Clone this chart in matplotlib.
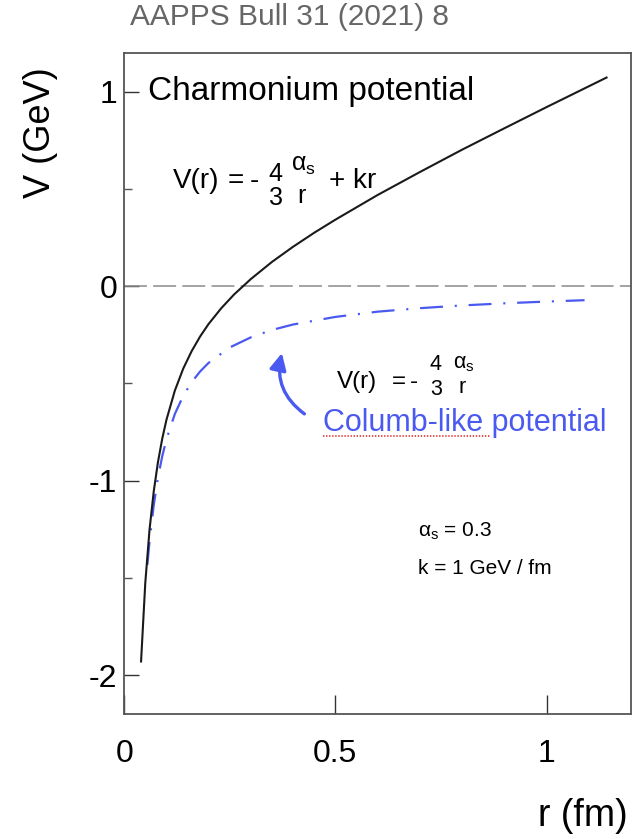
import matplotlib
matplotlib.use("Agg")
import matplotlib.pyplot as plt
from matplotlib.lines import Line2D

plt.rcParams['font.family'] = ['Liberation Sans', 'DejaVu Sans']
plt.rcParams['mathtext.fontset'] = 'custom'
plt.rcParams['mathtext.rm'] = 'Liberation Sans'
plt.rcParams['mathtext.it'] = 'Liberation Sans'
plt.rcParams['axes.unicode_minus'] = False
plt.rcParams['lines.scale_dashes'] = False

# Cornell potential (black)
r_full = [0.040, 0.050, 0.060, 0.070, 0.080, 0.090, 0.100, 0.120, 0.140, 0.160,
          0.180, 0.200, 0.230, 0.260, 0.300, 0.350, 0.400, 0.450, 0.500, 0.600,
          0.700, 0.800, 0.900, 1.000, 1.142]
v_full = [-1.930, -1.526, -1.253, -1.056, -0.905, -0.786, -0.688, -0.537, -0.423, -0.333,
          -0.258, -0.194, -0.113, -0.043, 0.037, 0.125, 0.203, 0.275, 0.342, 0.469,
          0.587, 0.702, 0.812, 0.921, 1.073]

# Coulomb-like part (blue dash-dot)
r_coul = [0.055, 0.060, 0.070, 0.080, 0.090, 0.100, 0.120, 0.140, 0.160, 0.180,
          0.200, 0.250, 0.300, 0.350, 0.400, 0.500, 0.600, 0.700, 0.800, 0.900,
          1.000, 1.090]
v_coul = [-1.433, -1.313, -1.126, -0.985, -0.876, -0.788, -0.657, -0.563, -0.493, -0.438,
          -0.394, -0.315, -0.263, -0.225, -0.197, -0.158, -0.131, -0.113, -0.099, -0.088,
          -0.079, -0.072]

x_ticks = [0, 0.5, 1]
x_labels = ['0', '0.5', '1']
y_ticks = [-2, -1, 0, 1]
y_labels = ['-2', '-1', '0', '1']
y_minor = [-1.5, -0.5, 0.5]

blue = '#4a5af0'
W, H = 640, 839


def ptext(x, y, s, **kw):
    # text placed in pixel coordinates of the final image (y from top)
    return fig.text(x / W, 1 - y / H, s, **kw)


def formula(x0, base, pos, big, small, with_kr):
    # pos: pixel offsets of the pieces, ROOT-like stacked fractions without bar
    ptext(x0, base, 'V(r)', fontsize=big, va='baseline')
    ptext(x0 + pos['eq'], base, '=', fontsize=big, va='baseline')
    ptext(x0 + pos['minus'], base, '-', fontsize=big, va='baseline')
    ptext(x0 + pos['num_x'], pos['four'], '4', fontsize=small, ha='center', va='baseline')
    ptext(x0 + pos['num_x'] + 1, pos['three'], '3', fontsize=small, ha='center', va='baseline')
    ptext(x0 + pos['frac_x'], pos['alpha'], r'$\alpha_{\mathrm{s}}$', fontsize=small,
          ha='center', va='baseline')
    ptext(x0 + pos['frac_x'] - 2, pos['r'], 'r', fontsize=small, ha='center', va='baseline')
    if with_kr:
        ptext(x0 + pos['plus'], base, '+ kr', fontsize=big, va='baseline')


fig = plt.figure(figsize=(6.4, 8.39), dpi=100)
ax = fig.add_axes([0.194, 0.149, 0.792, 0.788])

ax.axhline(0, color='#8a8a8a', lw=1.1, dashes=(16.5, 4.5))
ax.plot(r_coul, v_coul, color=blue, lw=1.6, dashes=(16.5, 8.5, 1.5, 8.5))
ax.plot(r_full, v_full, color='#1a1a1a', lw=1.5)

ax.set_xlim(0, 1.2)
ax.set_ylim(-2.2, 1.2)
ax.set_xticks(x_ticks)
ax.set_xticklabels(x_labels)
ax.set_yticks(y_ticks)
ax.set_yticklabels(y_labels)
ax.set_yticks(y_minor, minor=True)
ax.tick_params(axis='x', direction='in', length=14, width=1, pad=18,
               labelsize=23, color='#333333')
ax.tick_params(axis='y', which='major', direction='in', length=11, width=1,
               pad=5, labelsize=23, color='#333333')
ax.tick_params(axis='y', which='minor', direction='in', length=5.5, width=1,
               color='#555555')
for s in ax.spines.values():
    s.set_color('#555555')
    s.set_linewidth(1.3)

ax.text(0.057, 1.0, 'Charmonium potential', fontsize=24, ha='left', va='center')

formula(173, 188, dict(eq=55, minus=77, num_x=102, four=181, three=205,
                       frac_x=130, alpha=171, r=203, plus=156),
        big=20, small=18, with_kr=True)
formula(337, 388, dict(eq=55, minus=73, num_x=98, four=370, three=395,
                       frac_x=127, alpha=368, r=393, plus=0),
        big=17.5, small=15.5, with_kr=False)

ax.text(0.470, -0.706, 'Columb-like potential', fontsize=22, color=blue,
        ha='left', va='center')
ax.annotate('', xy=(0.375, -0.33), xytext=(0.432, -0.665),
            arrowprops=dict(arrowstyle='-|>,head_length=1.0,head_width=0.5',
                            color=blue, lw=2.4,
                            connectionstyle='arc3,rad=-0.35'))
ax.text(0.696, -1.26, r'$\alpha_{\mathrm{s}}$ = 0.3', fontsize=15, ha='left', va='center')
ax.text(0.696, -1.45, 'k = 1 GeV / fm', fontsize=15, ha='left', va='center')

# red spell-check underline under "Columb-like"
fig.add_artist(Line2D([323 / W, 490 / W], [1 - 436 / H, 1 - 436 / H],
                      color='#e03030', lw=1.2, dashes=(1, 1.2)))

ptext(130, 17, 'AAPPS Bull 31 (2021) 8', fontsize=21.5, color='#666666',
      ha='left', va='center')
ptext(40, 133, 'V (GeV)', fontsize=26, rotation=90, ha='center', va='center')
ptext(628, 816, 'r (fm)', fontsize=27, ha='right', va='center')

fig.savefig('out.png', dpi=100)
